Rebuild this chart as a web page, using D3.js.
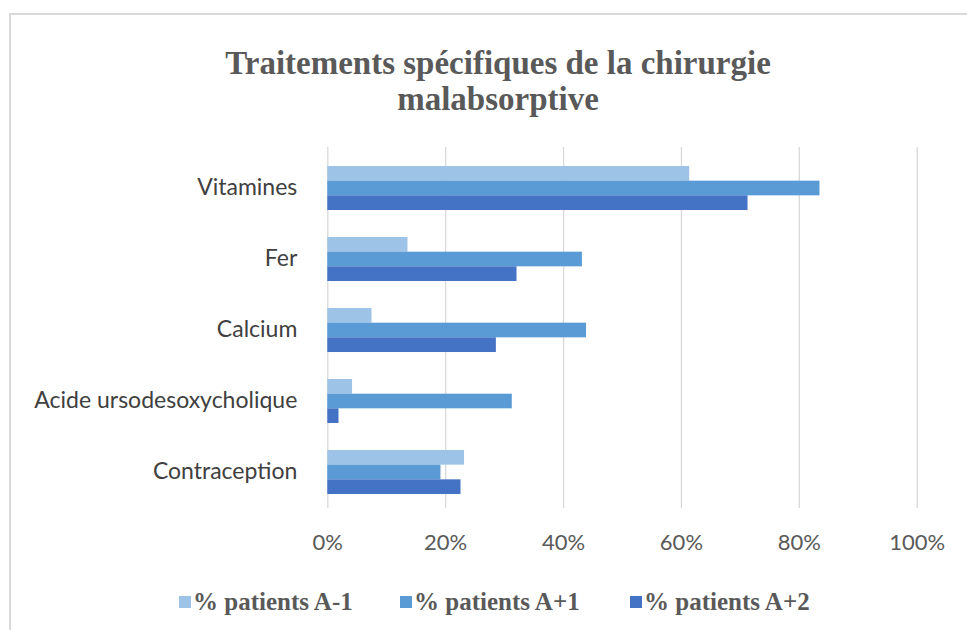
<!DOCTYPE html>
<html><head><meta charset="utf-8">
<script src="https://cdn.jsdelivr.net/npm/d3@7"></script>
<style>body{margin:0;background:#fff}svg{display:block}</style>
</head><body>
<script>
const categories = ["Vitamines","Fer","Calcium","Acide ursodesoxycholique","Contraception"];
const seriesNames = ["% patients A-1","% patients A+1","% patients A+2"];
const serieA_1 = [61.4, 13.6, 7.5, 4.2, 23.2];
const serieA1  = [83.5, 43.2, 43.9, 31.3, 19.2];
const serieA2  = [71.3, 32.1, 28.6, 1.9, 22.6];
const tickValues = [0,20,40,60,80,100];
const colors = ["#9dc3e6","#5b9bd5","#4472c4"];
const titleLines = ["Traitements spécifiques de la chirurgie","malabsorptive"];

const W=967,H=630;
const svg=d3.select("body").append("svg").attr("width",W).attr("height",H);
svg.append("rect").attr("x",10).attr("y",14).attr("width",W+20).attr("height",H+20)
  .attr("fill","#fff").attr("stroke","#d9d9d9").attr("stroke-width",2);

const x=d3.scaleLinear().domain([0,100]).range([327.3,916.7]);
const y=d3.scaleBand().domain(categories).range([152.5,507.5]).paddingInner(0.38).paddingOuter(0.19);
const ySub=d3.scaleBand().domain(seriesNames).range([0,y.bandwidth()]);

// gridlines
const grid=svg.append("g").attr("transform","translate(0,508)")
  .call(d3.axisBottom(x).tickValues(tickValues).tickSize(-361).tickFormat(d=>d+"%"));
grid.select(".domain").remove();
grid.selectAll(".tick line").attr("stroke","#d9d9d9").attr("stroke-width",1.3);
grid.selectAll(".tick text").attr("fill","#595959").attr("font-family","Lato, 'Open Sans', sans-serif")
  .attr("font-size",22).attr("dy","0.35em").attr("y",34);

const data=[serieA_1,serieA1,serieA2];
data.forEach((arr,si)=>{
  svg.append("g").selectAll("rect").data(categories).join("rect")
    .attr("x",x(0)).attr("y",(c)=>y(c)+ySub(seriesNames[si]))
    .attr("width",(c,i)=>x(arr[i])-x(0)).attr("height",ySub.bandwidth())
    .attr("fill",colors[si]);
});

// category labels
const yAx=svg.append("g").attr("transform","translate(327.3,0)")
  .call(d3.axisLeft(y).tickSize(0).tickPadding(30));
yAx.select(".domain").remove();
yAx.selectAll(".tick text").attr("fill","#404040").attr("font-family","Lato, 'Open Sans', sans-serif").attr("font-size",23);

// title
svg.append("text").attr("x",498).attr("y",74).attr("text-anchor","middle")
  .attr("font-family","'Liberation Serif', serif").attr("font-weight","bold").attr("font-size",33)
  .attr("fill","#595959")
  .selectAll("tspan").data(titleLines).join("tspan").attr("x",498).attr("dy",(d,i)=>i?36:0).text(d=>d);

// legend
const legX=[179,400,630];
const leg=svg.append("g").selectAll("g").data(seriesNames).join("g")
  .attr("transform",(d,i)=>`translate(${legX[i]},602)`);
leg.append("rect").attr("x",0).attr("y",-6).attr("width",12).attr("height",12).attr("fill",(d,i)=>colors[i]);
leg.append("text").attr("x",14).attr("y",0).attr("dy","0.32em")
  .attr("font-family","'Liberation Serif', serif").attr("font-weight","bold").attr("font-size",25)
  .attr("fill","#595959").text(d=>d);
</script>
</body></html>
